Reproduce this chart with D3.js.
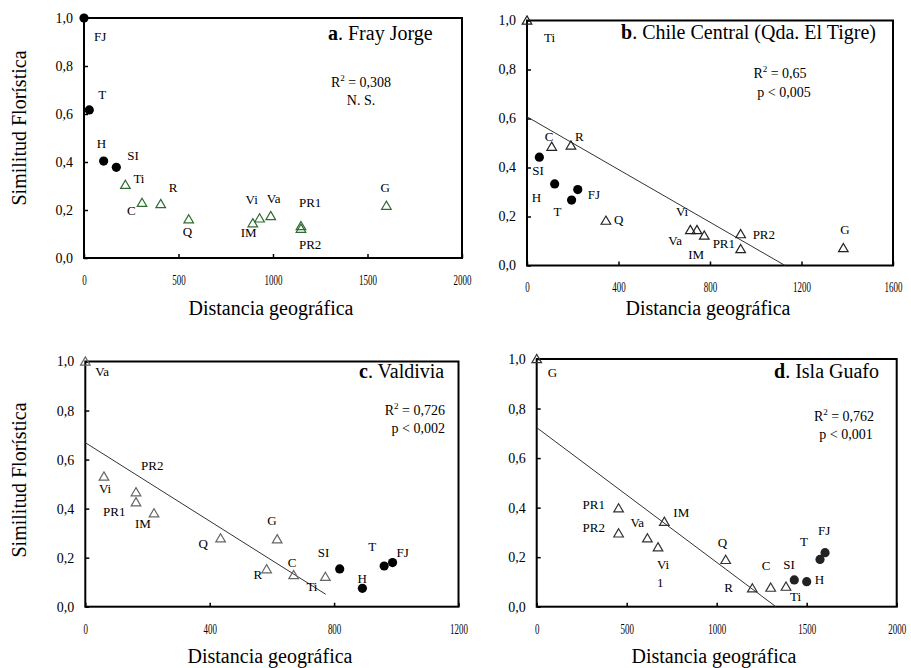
<!DOCTYPE html>
<html><head><meta charset="utf-8">
<script src="https://cdn.jsdelivr.net/npm/d3@7"></script>
<style>
body{margin:0;background:#fff}
svg{display:block}
text{font-family:"Liberation Serif","Times New Roman",serif;fill:#000}
</style>
</head><body>
<svg id="chart" width="911" height="668"></svg>
<script>
// ---------------- DATA ----------------
// Panel a: Fray Jorge
const sitesA = ["FJ","T","H","SI","Ti","C","R","Q","IM","Vi","Va","PR1","PR2","G"];
const distA  = [0,28,104,171,219,307,406,554,893,929,988,1148,1148,1600];
const simA   = [1.0,0.617,0.404,0.378,0.305,0.23,0.225,0.161,0.145,0.165,0.175,0.133,0.122,0.218];
const markA  = ["c","c","c","c","t","t","t","t","t","t","t","t","t","t"];
// Panel b: Chile Central (Qda. El Tigre)
const sitesB = ["Ti","C","R","SI","H","FJ","T","Q","Va","Vi","IM","PR2","PR1","G"];
const distB  = [0,108,192,54,121,222,195,345,714,743,775,934,934,1383];
const simB   = [1.0,0.485,0.49,0.442,0.333,0.31,0.267,0.183,0.145,0.145,0.122,0.128,0.067,0.071];
const markB  = ["t","t","t","c","c","c","c","t","t","t","t","t","t","t"];
// Panel c: Valdivia
const sitesC = ["Va","Vi","PR2","PR1","IM","Q","G","R","C","Ti","SI","H","T","FJ"];
const distC  = [0,60,163,163,221,435,617,583,670,772,818,891,961,988];
const simC   = [1.0,0.531,0.467,0.426,0.381,0.279,0.275,0.153,0.129,0.122,0.154,0.075,0.166,0.18];
const markC  = ["t","t","t","t","t","t","t","t","t","t","c","c","c","c"];
// Panel d: Isla Guafo
const sitesD = ["G","PR1","PR2","Va","Vi","IM","Q","R","C","Ti","SI","H","T","FJ"];
const distD  = [0,455,455,615,674,709,1050,1198,1300,1385,1431,1500,1574,1602];
const simD   = [1.0,0.397,0.296,0.276,0.24,0.343,0.189,0.074,0.077,0.081,0.108,0.101,0.191,0.218];
const markD  = ["t","t","t","t","t","t","t","t","t","t","c","c","c","c"];

const panelLetters = ["a","b","c","d"];
const panelNames   = ["Fray Jorge","Chile Central (Qda. El Tigre)","Valdivia","Isla Guafo"];
const statR2       = ["0,308","0,65","0,726","0,762"];
const statP        = ["N. S.","p < 0,005","p < 0,002","p < 0,001"];
const regIntercept = [null,0.607,0.669,0.723];
const regSlope     = [null,-0.000538,-0.0008,-0.000544];
const regEnd       = [null,1128,773,1329];
const xMax         = [2000,1600,1200,2000];
const xTicksA = [0,500,1000,1500,2000];
const xTicksB = [0,400,800,1200,1600];
const xTicksC = [0,400,800,1200];
const xTicksD = [0,500,1000,1500,2000];
const yTicks  = [0,0.2,0.4,0.6,0.8,1.0];
const xTitle = "Distancia geográfica";
const yTitle = "Similitud Florística";
const strayText = "1";   // stray character printed under "Vi" in panel d

// ---------------- LAYOUT ----------------
const layout = [
  {x0:84, x1:462, y0:18, y1:258, tri:"#2f6b2f", circ:"#000",
   off:[[10,23],[9,-11],[-7,-13],[11,-7],[8,-2],[-15,12],[8,-12],[-6,17],[-12,14],[-14,-14],[-4,-13],[-2,-19],[-2,20],[-6,-14]],
   title:[328,40], stats:[361,87,361,105,"middle"], xt:[271,315], yt:[26,128]},
  {x0:527, x1:893, y0:20.5, y1:265.5, tri:"#222", circ:"#000",
   off:[[17,21],[-7,-6],[4,-4],[-7,18],[-23,18],[10,9],[-18,16],[8,3],[-22,15],[-21,-14],[-16,23],[12,5],[-28,-1],[-3,-14]],
   title:[621,39], stats:[780,78,784,97,"middle"], xt:[708,315], yt:null},
  {x0:85.3, x1:458.5, y0:361.5, y1:606.7, tri:"#666", circ:"#000",
   off:[[10,14],[-5,17],[5,-22],[-33,14],[-19,15],[-22,10],[-10,-14],[-13,10],[-6,-8],[-19,14],[-22,-12],[-5,-5],[-16,-15],[4,-6]],
   title:[359,378], stats:[445,415,445,433,"end"], xt:[270,663], yt:[26,480]},
  {x0:536.7, x1:896.7, y0:359, y1:606.7, tri:"#333", circ:"#222",
   off:[[11,18],[-36,1],[-36,-1],[-17,-11],[-1,22],[9,-5],[-8,-13],[-28,4],[-9,-18],[4,14],[-11,-11],[8,2],[-20,-13],[-7,-18]],
   title:[774,378], stats:[844,421,846,439,"middle"], xt:[714,663], yt:null, stray:[4,-1,40]}
];

const panels = [
  {sites:sitesA, dist:distA, sim:simA, mark:markA, xt:xTicksA},
  {sites:sitesB, dist:distB, sim:simB, mark:markB, xt:xTicksB},
  {sites:sitesC, dist:distC, sim:simC, mark:markC, xt:xTicksC},
  {sites:sitesD, dist:distD, sim:simD, mark:markD, xt:xTicksD}
];

const svg = d3.select("#chart");
const fmtY = v => d3.format(".1f")(v).replace(".", ",");
const XTICK_SCALE = 0.64;

panels.forEach((p, i) => {
  const L = layout[i];
  const x = d3.scaleLinear().domain([0, xMax[i]]).range([L.x0, L.x1]);
  const y = d3.scaleLinear().domain([0, 1]).range([L.y1, L.y0]);
  const g = svg.append("g");

  // axes (ticks inward)
  const gx = g.append("g").attr("transform", `translate(0,${L.y1})`)
    .call(d3.axisBottom(x).tickValues(p.xt).tickSize(-4).tickPadding(17).tickFormat(d3.format("d")));
  const gy = g.append("g").attr("transform", `translate(${L.x0},0)`)
    .call(d3.axisLeft(y).tickValues(yTicks).tickSize(-4).tickPadding(11).tickFormat(fmtY));
  [gx, gy].forEach(a => {
    a.select(".domain").remove();
    a.selectAll(".tick line").attr("stroke", "#000").attr("stroke-width", 1.5);
    a.selectAll(".tick text").attr("font-size", 14).attr("font-family", "Liberation Serif, serif").attr("fill", "#000");
  });
  gx.selectAll(".tick text").attr("transform", `scale(${XTICK_SCALE},1)`);

  // frame
  g.append("rect").attr("x", L.x0).attr("y", L.y0)
    .attr("width", L.x1 - L.x0).attr("height", L.y1 - L.y0)
    .attr("fill", "none").attr("stroke", "#000").attr("stroke-width", 2);

  // regression line
  if (regIntercept[i] !== null) {
    const line = d3.line().x(d => x(d)).y(d => y(regIntercept[i] + regSlope[i] * d));
    g.append("path").datum([0, regEnd[i]]).attr("d", line)
      .attr("fill", "none").attr("stroke", "#333").attr("stroke-width", 1);
  }

  // markers
  const tri = "M0,-4.6L4.8,3.6L-4.8,3.6Z";
  p.sites.forEach((s, k) => {
    const px = x(p.dist[k]), py = y(p.sim[k]);
    if (p.mark[k] === "c") {
      g.append("circle").attr("cx", px).attr("cy", py).attr("r", 4.6).attr("fill", L.circ);
    } else {
      g.append("path").attr("d", tri).attr("transform", `translate(${px},${py})`)
        .attr("fill", "#fff").attr("fill-opacity", 0).attr("stroke", L.tri).attr("stroke-width", 1.2);
    }
    g.append("text").attr("x", px + L.off[k][0]).attr("y", py + L.off[k][1])
      .attr("font-size", 13).text(s);
  });
  if (L.stray) {
    const k = L.stray[0];
    g.append("text").attr("x", x(p.dist[k]) + L.stray[1]).attr("y", y(p.sim[k]) + L.stray[2])
      .attr("font-size", 13).text(strayText);
  }

  // title
  const t = g.append("text").attr("x", L.title[0]).attr("y", L.title[1]).attr("font-size", 20);
  t.append("tspan").attr("font-weight", "bold").text(panelLetters[i]);
  t.append("tspan").text(". " + panelNames[i]);

  // stats
  const st = g.append("text").attr("x", L.stats[0]).attr("y", L.stats[1]).attr("font-size", 14).attr("text-anchor", L.stats[4]);
  st.append("tspan").text("R");
  st.append("tspan").attr("font-size", 9).attr("dy", -6).text("2");
  st.append("tspan").attr("dy", 6).text(" = " + statR2[i]);
  g.append("text").attr("x", L.stats[2]).attr("y", L.stats[3]).attr("font-size", 14).attr("text-anchor", L.stats[4]).text(statP[i]);

  // axis titles
  g.append("text").attr("x", L.xt[0]).attr("y", L.xt[1]).attr("font-size", 20).attr("text-anchor", "middle").text(xTitle);
  if (L.yt) {
    g.append("text").attr("transform", `translate(${L.yt[0]},${L.yt[1]}) rotate(-90)`)
      .attr("font-size", 20).attr("text-anchor", "middle").text(yTitle);
  }
});
</script>
</body></html>
